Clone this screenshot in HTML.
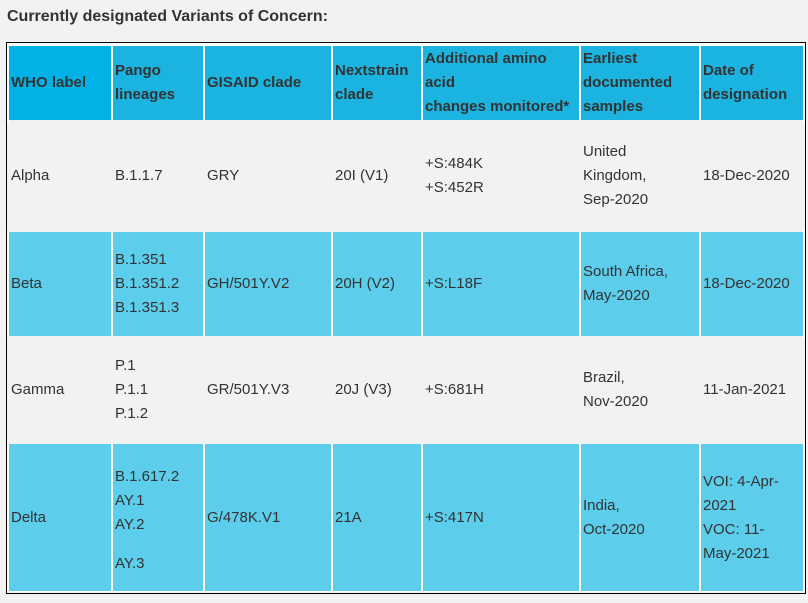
<!DOCTYPE html>
<html><head><style>
body{margin:0;width:808px;height:603px;background:#f2f2f2;font-family:"Liberation Sans",Arial,sans-serif;color:#333;position:relative;overflow:hidden}
.t{position:absolute;left:7px;top:8px;font-weight:bold;font-size:16px}
.box{position:absolute;left:6px;top:42px;width:798px;height:550px;border:1px solid #000;background:#f2f2f2}
.w{position:absolute;left:7px;width:798px;background:#fff}
.c{position:absolute;display:flex;align-items:center;font-size:15px;line-height:24px;padding-left:2px;box-sizing:border-box}
.h{background:#1bb3df;font-weight:bold}
.h0{background:#00b2e6}
.g{background:#f2f2f2}
.b{background:#5ccdeb}
</style></head><body>
<div class="t">Currently designated Variants of Concern:</div>
<div class="box"></div>
<div class="w" style="top:43px;height:80px"></div>
<div class="w" style="top:230px;height:108px"></div>
<div class="w" style="top:442px;height:150px"></div>
<div id="t"></div>
<script>
var xs=[[9,111],[113,203],[205,331],[333,421],[423,579],[581,699],[701,803]];
var ys=[[46,120],[122,230],[232,336],[338,442],[444,591]];
var data=[
["WHO label","Pango<br>lineages","GISAID clade","Nextstrain<br>clade","Additional amino<br>acid<br>changes monitored*","Earliest<br>documented<br>samples","Date of<br>designation"],
["Alpha","B.1.1.7","GRY","20I (V1)","+S:484K<br>+S:452R","United<br>Kingdom,<br>Sep-2020","18-Dec-2020"],
["Beta","B.1.351<br>B.1.351.2<br>B.1.351.3","GH/501Y.V2","20H (V2)","+S:L18F","South Africa,<br>May-2020","18-Dec-2020"],
["Gamma","P.1<br>P.1.1<br>P.1.2","GR/501Y.V3","20J (V3)","+S:681H","Brazil,<br>Nov-2020","11-Jan-2021"],
["Delta","<div style='padding-top:20px'>B.1.617.2<br>AY.1<br>AY.2<div style='height:39px;line-height:24px;padding-top:15px'>AY.3</div></div>","G/478K.V1","21A","+S:417N","India,<br>Oct-2020","VOI: 4-Apr-<br>2021<br>VOC: 11-<br>May-2021"]];
var h="";
for(var r=0;r<5;r++)for(var c=0;c<7;c++){
var cls=r==0?(c==0?"h h0":"h"):(r%2?"g":"b");
var x0=xs[c][0],x1=xs[c][1],y0=ys[r][0],y1=ys[r][1];
if(r%2==1){x0=c==0?9:xs[c-1][1];y0-=2;y1+=2;}
h+='<div class="c '+cls+'" style="left:'+x0+'px;top:'+y0+'px;width:'+(x1-x0)+'px;height:'+(y1-y0)+'px;padding-left:'+(xs[c][0]-x0+2)+'px"><div>'+data[r][c]+'</div></div>';}
document.getElementById("t").innerHTML=h;
</script>
</body></html>
